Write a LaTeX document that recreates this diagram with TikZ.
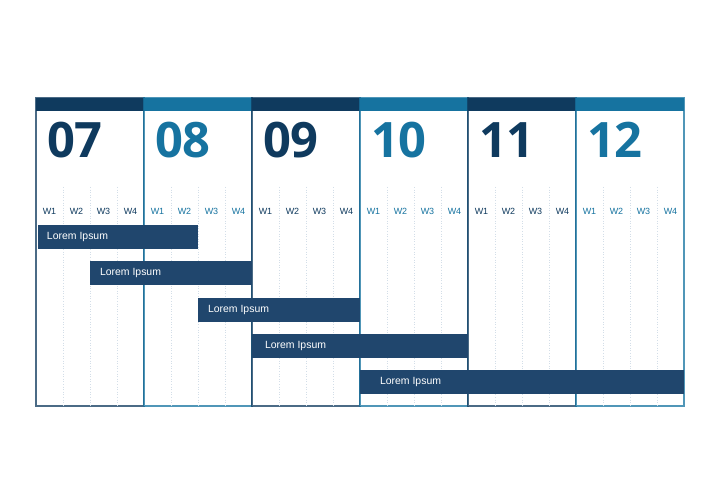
\documentclass[tikz,border=0pt]{standalone}
\usepackage{fontspec}
\setmainfont{Liberation Sans}
\newfontfamily\numfont{Open Sans}
\usetikzlibrary{positioning}

\definecolor{navy}{HTML}{0F3A5E}
\definecolor{teal}{HTML}{1673A0}
\definecolor{barblue}{HTML}{20466D}
\definecolor{gridline}{HTML}{D3DEE8}

\newcommand{\monthnum}[1]{{\numfont\fontsize{49}{49}\selectfont\bfseries #1}}

\begin{document}
\begin{tikzpicture}[x=1bp, y=-1bp,
  every node/.style={inner sep=0pt, outer sep=0pt},
  monthbox/.style={draw=#1, draw opacity=0.75, line width=1.3bp, fill=white, minimum width=108bp, minimum height=308bp},
  headbar/.style={fill=#1, minimum width=108bp, minimum height=13bp},
  weeklabel/.style={text=#1, font=\fontsize{9}{10}\selectfont},
  bar/.style={fill=barblue, minimum height=24bp},
  barlabel/.style={text=white, font=\fontsize{10.5}{11}\selectfont}]

  \useasboundingbox (0,0) rectangle (720,504);

  % months
  \foreach \m/\c [count=\i from 0] in {07/navy, 08/teal, 09/navy, 10/teal, 11/navy, 12/teal} {
    \node[monthbox=\c] (box\m) at (90+108*\i, 252) {};
    \foreach \w in {1,2,3} {
      \draw[gridline, dotted, line width=0.6bp] (36+108*\i+27*\w, 187) -- (36+108*\i+27*\w, 405);
    }
    \node[headbar=\c] (head\m) at (90+108*\i, 104.5) {};
    \node[text=\c, anchor=west] (num\m) at (47+108*\i, 140) {\monthnum{\m}};
    \foreach \w in {1,2,3,4} {
      \node[weeklabel=\c] (w\m\w) at (22.5+108*\i+27*\w, 211) {W\w};
    }
  }

  % tasks
  \node[bar, minimum width=160bp] (task1) at (118, 237) {};
  \node[barlabel, right=9bp of task1.west] (lbl1) {Lorem Ipsum};

  \node[bar, minimum width=162bp] (task2) at (171, 273) {};
  \node[barlabel, right=10bp of task2.west] (lbl2) {Lorem Ipsum};

  \node[bar, minimum width=162bp] (task3) at (279, 310) {};
  \node[barlabel, right=10bp of task3.west] (lbl3) {Lorem Ipsum};

  \node[bar, minimum width=216bp] (task4) at (360, 346) {};
  \node[barlabel, right=13bp of task4.west] (lbl4) {Lorem Ipsum};

  \node[bar, minimum width=324bp] (task5) at (522, 382) {};
  \node[barlabel, right=20bp of task5.west] (lbl5) {Lorem Ipsum};

\end{tikzpicture}
\end{document}
